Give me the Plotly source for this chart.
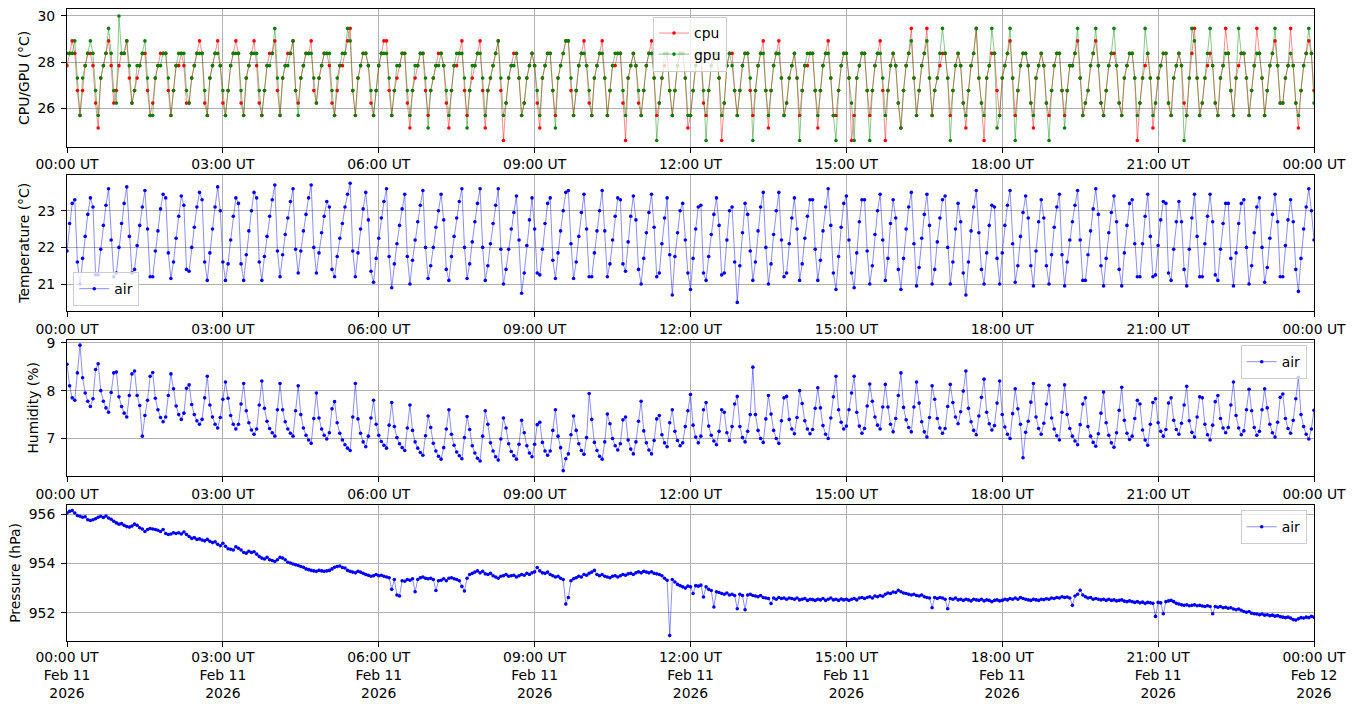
import pandas as pd
import plotly.graph_objects as go

# ---------------- data (3-minute samples, 11 Feb 2026 00:00 -> 12 Feb 2026 00:00 UT) ----------------
start_time = "2026-02-11 00:00"
sample_step = "3min"

# quantised SoC temperature levels (deg C)
soc_levels = [24.61, 25.15, 25.69, 26.23, 26.77, 27.31, 27.85, 28.38, 28.92, 29.46, 30.0]

cpu_level_idx = [
    6, 7, 8, 7, 4, 2, 4, 6, 7, 7, 6, 3, 1, 5, 6, 7, 8, 6, 3, 4,
    6, 7, 7, 8, 5, 3, 4, 5, 6, 7, 7, 4, 2, 3, 5, 6, 7, 7, 7, 4,
    2, 4, 6, 6, 7, 6, 3, 3, 5, 6, 7, 8, 7, 3, 2, 5, 6, 7, 8, 6,
    3, 2, 4, 6, 7, 8, 7, 3, 2, 5, 6, 7, 8, 6, 3, 2, 4, 6, 7, 7,
    8, 4, 2, 5, 6, 7, 7, 8, 4, 3, 5, 6, 7, 7, 8, 4, 3, 5, 6, 7,
    7, 6, 3, 2, 4, 6, 6, 7, 8, 9, 4, 2, 5, 6, 7, 7, 6, 3, 2, 4,
    6, 7, 8, 8, 4, 2, 4, 5, 6, 7, 7, 3, 1, 4, 5, 6, 7, 7, 4, 2,
    4, 5, 6, 7, 7, 6, 3, 1, 4, 6, 6, 7, 8, 4, 2, 4, 5, 6, 7, 8,
    4, 1, 4, 5, 6, 7, 8, 4, 0, 3, 5, 6, 7, 7, 5, 2, 3, 5, 6, 7,
    6, 3, 1, 5, 6, 7, 7, 4, 2, 5, 6, 7, 8, 8, 4, 2, 4, 6, 7, 8,
    6, 3, 2, 5, 6, 7, 8, 5, 2, 4, 6, 6, 7, 7, 3, 0, 5, 6, 7, 6,
    3, 2, 4, 6, 7, 8, 5, 2, 3, 5, 6, 7, 4, 2, 4, 6, 7, 7, 5, 1,
    2, 4, 6, 7, 7, 3, 2, 4, 6, 7, 7, 5, 0, 3, 6, 7, 7, 4, 2, 4,
    6, 7, 7, 4, 2, 4, 6, 7, 8, 4, 1, 4, 6, 7, 8, 5, 2, 3, 5, 6,
    7, 5, 2, 4, 6, 6, 7, 7, 4, 1, 4, 6, 7, 8, 5, 2, 2, 4, 6, 7,
    7, 5, 0, 2, 5, 6, 7, 7, 4, 2, 4, 6, 7, 8, 4, 0, 4, 6, 7, 6,
    3, 1, 4, 6, 7, 9, 5, 2, 4, 6, 7, 9, 5, 2, 4, 5, 6, 7, 7, 5,
    2, 4, 6, 7, 6, 3, 1, 4, 6, 7, 9, 5, 3, 0, 5, 6, 7, 7, 4, 2,
    5, 6, 7, 8, 5, 2, 4, 6, 7, 7, 6, 3, 1, 5, 6, 7, 6, 3, 2, 4,
    6, 7, 7, 4, 2, 4, 6, 6, 7, 8, 5, 2, 3, 4, 6, 7, 8, 6, 3, 2,
    4, 6, 7, 7, 6, 3, 2, 5, 6, 7, 7, 5, 0, 3, 5, 6, 7, 5, 1, 3,
    5, 6, 7, 7, 3, 2, 5, 6, 7, 6, 3, 2, 5, 7, 9, 5, 2, 3, 5, 6,
    7, 6, 3, 2, 5, 6, 9, 7, 4, 2, 5, 6, 7, 7, 5, 2, 4, 6, 9, 7,
    5, 2, 4, 6, 7, 8, 6, 3, 3, 5, 6, 9, 6, 3, 1, 4, 6, 7, 8, 7, 4,
]

gpu_level_idx = [
    7, 7, 7, 8, 5, 2, 5, 6, 7, 8, 7, 4, 2, 5, 6, 7, 9, 7, 4, 3,
    10, 7, 7, 8, 6, 3, 4, 6, 6, 7, 8, 5, 2, 2, 5, 6, 6, 7, 7, 5,
    2, 4, 6, 7, 7, 7, 4, 3, 5, 6, 7, 7, 7, 4, 2, 5, 6, 7, 7, 6,
    4, 2, 4, 6, 7, 7, 7, 4, 2, 5, 6, 7, 7, 7, 4, 2, 4, 6, 6, 7,
    9, 5, 2, 5, 6, 6, 7, 8, 4, 2, 5, 6, 7, 7, 7, 5, 3, 5, 6, 7,
    7, 7, 4, 2, 5, 6, 7, 7, 9, 8, 4, 2, 5, 6, 7, 7, 6, 4, 2, 4,
    6, 7, 7, 7, 5, 2, 4, 6, 6, 7, 7, 4, 2, 4, 6, 6, 7, 7, 5, 1,
    4, 5, 6, 6, 7, 6, 4, 2, 4, 6, 7, 7, 7, 5, 1, 4, 6, 6, 7, 7,
    5, 2, 4, 5, 6, 7, 8, 5, 2, 3, 5, 6, 6, 7, 5, 2, 3, 5, 6, 7,
    6, 4, 2, 5, 6, 7, 7, 4, 1, 5, 6, 7, 8, 8, 5, 2, 4, 6, 7, 7,
    6, 4, 2, 5, 6, 7, 7, 5, 2, 4, 6, 7, 7, 7, 4, 2, 5, 6, 7, 6,
    4, 2, 4, 6, 7, 7, 5, 0, 3, 5, 7, 7, 4, 2, 4, 6, 7, 7, 5, 2,
    2, 4, 6, 7, 7, 4, 0, 4, 6, 7, 7, 5, 2, 3, 6, 7, 6, 4, 2, 4,
    6, 7, 7, 5, 0, 4, 6, 7, 7, 4, 2, 4, 6, 7, 7, 5, 2, 3, 5, 6,
    7, 5, 0, 4, 6, 7, 7, 7, 4, 2, 4, 6, 7, 7, 5, 2, 0, 4, 6, 7,
    7, 5, 3, 0, 5, 6, 7, 7, 4, 0, 4, 6, 7, 7, 5, 2, 4, 6, 7, 6,
    3, 1, 4, 6, 7, 8, 5, 2, 4, 6, 7, 8, 5, 2, 4, 5, 7, 9, 7, 5,
    0, 4, 6, 7, 6, 3, 2, 4, 6, 7, 9, 5, 3, 2, 5, 6, 9, 7, 1, 2,
    5, 6, 7, 9, 5, 0, 4, 6, 7, 7, 6, 3, 2, 5, 6, 7, 6, 3, 0, 4,
    6, 7, 7, 4, 1, 4, 6, 6, 7, 9, 5, 2, 3, 4, 6, 7, 9, 6, 3, 2,
    4, 6, 7, 9, 6, 3, 2, 5, 6, 7, 7, 5, 2, 3, 5, 9, 7, 5, 2, 3,
    5, 6, 7, 7, 3, 2, 5, 6, 7, 6, 0, 2, 5, 9, 8, 5, 2, 3, 5, 7,
    9, 6, 3, 2, 5, 6, 7, 7, 4, 2, 5, 9, 7, 7, 5, 2, 4, 6, 7, 7,
    5, 2, 4, 6, 7, 9, 6, 3, 3, 5, 6, 7, 6, 3, 2, 4, 6, 7, 9, 7, 3,
]

air_temperature = [
    21.9, 22.65, 23.2, 23.3, 21.6, 21.0, 21.7, 22.3, 22.9, 23.35, 23.1, 21.25, 21.25, 21.95, 22.6, 23.15, 23.6, 22.2, 21.2, 21.3,
    22.0, 22.65, 23.2, 23.65, 22.3, 21.3, 21.4, 22.05, 22.6, 23.1, 23.55, 22.5, 21.2, 21.2, 21.9, 22.45, 23.05, 23.45, 23.35, 21.85,
    21.15, 21.6, 22.25, 22.85, 23.4, 23.15, 21.4, 21.35, 22.0, 22.55, 23.1, 23.5, 23.3, 21.6, 21.1, 21.85, 22.5, 23.1, 23.65, 23.0,
    21.6, 21.1, 21.55, 22.2, 22.85, 23.35, 23.2, 21.55, 21.1, 21.8, 22.45, 23.0, 23.5, 23.35, 21.6, 21.1, 21.75, 22.3, 22.85, 23.3,
    23.7, 21.9, 21.2, 21.8, 22.35, 22.8, 23.25, 23.6, 21.95, 21.3, 21.9, 22.45, 22.9, 23.35, 23.7, 22.0, 21.3, 21.85, 22.4, 22.85,
    23.25, 23.1, 21.4, 21.2, 21.75, 22.25, 22.65, 23.1, 23.45, 23.75, 21.9, 21.2, 21.85, 22.5, 23.05, 23.5, 22.75, 21.35, 21.05, 21.7,
    22.25, 22.8, 23.25, 23.6, 21.75, 20.9, 21.55, 22.1, 22.6, 23.05, 23.45, 21.75, 21.0, 21.65, 22.2, 22.7, 23.15, 23.55, 22.0, 21.15,
    21.5, 22.0, 22.55, 23.0, 23.45, 22.75, 21.4, 21.1, 21.75, 22.3, 22.8, 23.25, 23.6, 22.0, 21.15, 21.55, 22.15, 22.7, 23.2, 23.6,
    22.0, 21.1, 21.5, 22.1, 22.65, 23.15, 23.6, 21.95, 21.0, 21.4, 21.95, 22.5, 22.95, 23.4, 22.2, 20.75, 21.3, 22.05, 22.75, 23.35,
    22.5, 21.3, 21.25, 21.95, 22.65, 23.2, 23.35, 21.65, 21.15, 21.85, 22.45, 23.0, 23.5, 23.55, 22.1, 21.15, 21.6, 22.3, 22.95, 23.45,
    22.5, 21.2, 21.2, 21.85, 22.45, 23.0, 23.55, 22.45, 21.2, 21.55, 22.2, 22.85, 23.35, 23.3, 21.55, 21.35, 22.15, 22.85, 23.4, 22.75,
    21.4, 21.0, 21.7, 22.4, 22.95, 23.45, 22.55, 21.2, 21.3, 22.1, 22.8, 23.35, 21.8, 20.7, 21.75, 22.4, 23.0, 23.2, 22.2, 21.3,
    20.85, 21.7, 22.5, 23.1, 23.15, 21.3, 21.1, 21.75, 22.35, 22.9, 23.35, 22.6, 21.25, 21.3, 22.2, 23.0, 23.1, 21.6, 20.5, 21.5,
    22.4, 23.2, 22.9, 21.9, 21.1, 21.6, 22.45, 23.1, 23.5, 22.0, 21.0, 21.55, 22.35, 23.0, 23.5, 22.2, 21.2, 21.3, 22.1, 22.8,
    23.35, 22.5, 21.1, 21.55, 22.25, 22.85, 23.3, 23.3, 21.95, 21.1, 21.65, 22.45, 23.1, 23.6, 22.6, 21.3, 20.85, 21.75, 22.55, 23.2,
    23.4, 22.2, 21.3, 20.9, 21.85, 22.7, 23.3, 23.3, 21.9, 21.0, 21.5, 22.35, 23.0, 23.45, 22.2, 21.1, 21.7, 22.65, 23.3, 22.8,
    21.4, 20.85, 21.7, 22.5, 23.1, 23.5, 22.1, 20.95, 21.45, 22.25, 22.9, 23.45, 22.6, 21.0, 21.4, 22.15, 22.8, 23.3, 23.4, 22.0,
    21.0, 21.6, 22.5, 23.2, 22.7, 21.3, 20.7, 21.6, 22.45, 23.1, 23.55, 22.4, 21.4, 21.0, 21.85, 22.6, 23.15, 23.1, 21.7, 21.0,
    21.85, 22.6, 23.15, 23.55, 22.1, 21.05, 21.5, 22.3, 22.95, 23.4, 22.8, 21.5, 20.95, 21.9, 22.7, 23.3, 22.8, 21.5, 21.0, 21.8,
    22.55, 23.1, 23.45, 21.8, 20.95, 21.6, 22.2, 22.7, 23.15, 23.55, 22.2, 21.1, 21.1, 21.8, 22.45, 23.05, 23.6, 22.9, 21.5, 20.95,
    21.7, 22.4, 22.95, 23.4, 22.7, 21.4, 20.95, 21.85, 22.6, 23.2, 23.3, 22.1, 21.2, 21.2, 22.1, 22.85, 23.45, 22.3, 21.2, 21.25,
    22.05, 22.75, 23.25, 23.2, 21.3, 21.1, 21.95, 22.7, 23.25, 22.7, 21.4, 20.95, 21.95, 22.8, 23.45, 22.3, 21.2, 21.2, 22.1, 22.85,
    23.45, 22.7, 21.25, 21.1, 21.95, 22.65, 23.2, 23.2, 21.7, 20.95, 21.85, 22.65, 23.2, 23.3, 22.0, 21.0, 21.5, 22.4, 23.1, 23.35,
    22.0, 21.05, 21.45, 22.25, 22.9, 23.45, 22.7, 21.2, 21.2, 22.05, 22.75, 23.3, 22.7, 21.4, 20.8, 21.7, 22.5, 23.1, 23.6, 23.0, 22.2,
]

air_humidity = [
    8.55, 8.1, 7.85, 7.8, 8.37, 8.95, 8.27, 7.95, 7.78, 7.67, 7.83, 8.44, 8.56, 8.0, 7.78, 7.64, 7.55, 7.96, 8.37, 8.39,
    7.87, 7.67, 7.53, 7.45, 7.9, 8.35, 8.41, 7.9, 7.69, 7.05, 7.48, 7.8, 8.3, 8.38, 7.84, 7.6, 7.44, 7.35, 7.45, 7.9,
    8.35, 8.04, 7.68, 7.5, 7.4, 7.53, 8.05, 8.12, 7.71, 7.5, 7.37, 7.3, 7.4, 7.85, 8.3, 7.7, 7.45, 7.3, 7.22, 7.44,
    7.82, 8.18, 7.84, 7.48, 7.3, 7.2, 7.3, 7.72, 8.15, 7.58, 7.33, 7.18, 7.09, 7.2, 7.7, 8.2, 7.63, 7.36, 7.21, 7.12,
    7.05, 7.6, 8.15, 7.6, 7.35, 7.2, 7.11, 7.05, 7.58, 8.1, 7.5, 7.22, 7.07, 6.97, 6.9, 7.42, 7.95, 7.43, 7.2, 7.07,
    6.99, 7.12, 7.62, 7.77, 7.33, 7.11, 6.97, 6.87, 6.8, 6.75, 7.45, 8.15, 7.41, 7.11, 6.93, 6.83, 7.05, 7.43, 7.8, 7.3,
    7.07, 6.94, 6.86, 6.8, 7.28, 7.75, 7.25, 7.02, 6.89, 6.81, 6.75, 7.22, 7.7, 7.17, 6.93, 6.8, 6.71, 6.65, 7.06, 7.47,
    7.23, 6.9, 6.74, 6.63, 6.57, 6.81, 7.2, 7.6, 7.09, 6.86, 6.72, 6.64, 6.58, 7.02, 7.46, 7.19, 6.85, 6.7, 6.59, 6.53,
    7.05, 7.58, 7.3, 6.91, 6.74, 6.62, 6.55, 6.99, 7.43, 7.22, 6.89, 6.73, 6.64, 6.57, 6.88, 7.38, 7.12, 6.85, 6.7, 6.62,
    6.88, 7.29, 7.34, 6.92, 6.74, 6.65, 6.74, 7.17, 7.6, 7.05, 6.81, 6.33, 6.58, 6.68, 7.08, 7.47, 7.17, 6.89, 6.75, 6.67,
    7.02, 7.94, 7.4, 6.92, 6.75, 6.63, 6.57, 6.93, 7.51, 7.31, 7.0, 6.85, 6.76, 6.89, 7.39, 7.45, 6.97, 6.78, 6.68, 6.93,
    7.36, 7.78, 7.16, 6.91, 6.76, 6.68, 6.96, 7.41, 7.48, 7.08, 6.91, 6.83, 7.33, 7.6, 7.15, 6.96, 6.85, 6.91, 7.25, 7.58,
    7.92, 7.28, 7.03, 6.91, 7.05, 7.6, 7.75, 7.26, 7.07, 6.95, 6.87, 7.15, 7.6, 7.55, 7.12, 6.96, 7.25, 7.72, 7.88, 7.25,
    7.02, 6.93, 7.15, 7.5, 8.49, 7.5, 7.17, 7.0, 6.92, 7.41, 7.9, 7.51, 7.17, 7.0, 6.9, 7.37, 7.85, 7.88, 7.4, 7.2,
    7.1, 7.44, 8.0, 7.73, 7.37, 7.2, 7.1, 7.19, 7.63, 8.06, 7.64, 7.27, 7.09, 7.0, 7.43, 7.87, 8.3, 7.6, 7.34, 7.2,
    7.26, 7.6, 7.95, 8.3, 7.55, 7.26, 7.11, 7.21, 7.68, 8.14, 7.78, 7.45, 7.28, 7.2, 7.66, 8.13, 7.66, 7.3, 7.14, 7.42,
    7.9, 8.37, 7.65, 7.39, 7.23, 7.14, 7.66, 8.18, 7.74, 7.35, 7.14, 7.03, 7.44, 8.1, 7.82, 7.42, 7.22, 7.11, 7.21, 7.67,
    8.13, 7.75, 7.45, 7.31, 7.56, 7.99, 8.41, 7.63, 7.35, 7.17, 7.08, 7.47, 7.86, 8.24, 7.55, 7.31, 7.18, 7.27, 7.74, 8.2,
    7.5, 7.24, 7.09, 7.0, 7.52, 8.04, 7.62, 7.3, 6.6, 7.13, 7.36, 7.76, 8.15, 7.45, 7.21, 7.09, 7.32, 7.72, 8.11, 7.43,
    7.2, 7.06, 6.97, 7.55, 8.12, 7.5, 7.21, 7.05, 6.95, 6.87, 7.29, 7.72, 7.85, 7.25, 7.05, 6.92, 6.84, 7.1, 7.53, 7.97,
    7.33, 7.07, 6.91, 6.82, 7.12, 7.59, 8.07, 7.38, 7.11, 6.98, 7.05, 7.42, 7.8, 7.72, 7.18, 6.97, 6.86, 7.3, 7.75, 7.83,
    7.33, 7.15, 7.05, 7.19, 7.74, 7.85, 7.38, 7.19, 7.09, 7.32, 7.7, 8.09, 7.37, 7.13, 7.03, 7.45, 7.87, 7.85, 7.3, 7.08,
    6.97, 7.28, 7.77, 7.9, 7.42, 7.22, 7.12, 7.23, 7.7, 8.18, 7.48, 7.22, 7.08, 7.16, 7.6, 8.03, 7.58, 7.23, 7.07, 7.15,
    7.6, 8.04, 7.64, 7.3, 7.12, 7.03, 7.34, 7.86, 7.93, 7.42, 7.21, 7.11, 7.38, 7.83, 8.28, 7.5, 7.25, 7.09, 6.99, 7.2, 7.59,
]

air_pressure = [
    956.05, 956.12, 956.15, 956.05, 955.95, 955.92, 955.88, 955.9, 955.78, 955.75, 955.78, 955.82, 955.88, 955.92, 955.87, 955.93, 955.85, 955.8, 955.72, 955.65,
    955.6, 955.62, 955.55, 955.5, 955.48, 955.52, 955.6, 955.55, 955.45, 955.4, 955.3, 955.38, 955.42, 955.4, 955.38, 955.35, 955.3, 955.38, 955.22, 955.18,
    955.2, 955.25, 955.22, 955.25, 955.2, 955.28, 955.18, 955.1, 955.02, 955.05, 954.98, 955.0, 954.95, 954.92, 954.98, 954.9, 954.85, 954.88, 954.78, 954.72,
    954.82, 954.7, 954.6, 954.58, 954.55, 954.68, 954.62, 954.55, 954.45, 954.42, 954.5, 954.45, 954.48, 954.38, 954.28, 954.22, 954.18, 954.25, 954.15, 954.12,
    954.08, 954.15, 954.25, 954.22, 954.15, 954.05, 954.02, 953.98, 953.95, 953.92, 953.88, 953.85, 953.78, 953.75, 953.72, 953.7, 953.68, 953.72, 953.7, 953.68,
    953.7, 953.72, 953.78, 953.85, 953.88, 953.9, 953.84, 953.82, 953.72, 953.68, 953.65, 953.62, 953.68, 953.65, 953.6, 953.55, 953.52, 953.48, 953.5, 953.55,
    953.5, 953.52, 953.48, 953.45, 953.42, 952.95, 953.35, 952.72, 952.68, 953.3, 953.28, 953.35, 953.32, 953.38, 952.85, 953.35, 953.42, 953.45, 953.4, 953.38,
    953.4, 953.35, 952.9, 953.3, 953.32, 953.38, 953.3, 953.4, 953.42, 953.38, 953.35, 953.3, 953.07, 952.88, 953.4, 953.55, 953.6, 953.65, 953.7, 953.62,
    953.68, 953.58, 953.55, 953.6, 953.5, 953.45, 953.4, 953.48, 953.5, 953.55, 953.48, 953.5, 953.52, 953.45, 953.5, 953.55, 953.52, 953.6, 953.55, 953.62,
    953.66, 953.84, 953.7, 953.62, 953.6, 953.65, 953.55, 953.5, 953.45, 953.48, 953.4, 953.35, 952.35, 952.62, 953.3, 953.38, 953.42, 953.48, 953.45, 953.55,
    953.52, 953.6, 953.65, 953.72, 953.55, 953.5, 953.55, 953.48, 953.45, 953.42, 953.48, 953.5, 953.45, 953.5, 953.55, 953.52, 953.58, 953.6, 953.55, 953.62,
    953.66, 953.62, 953.68, 953.65, 953.62, 953.66, 953.6, 953.58, 953.55, 953.5, 953.4, 953.32, 951.07, 953.35, 953.25, 953.15, 953.1, 953.05, 953.0, 953.08,
    953.05, 952.78, 953.1, 953.08, 953.12, 952.64, 953.05, 952.95, 952.9, 952.23, 952.85, 952.82, 952.78, 952.75, 952.8, 952.72, 952.75, 952.7, 952.16, 952.75,
    952.7, 952.12, 952.72, 952.75, 952.7, 952.68, 952.65, 952.7, 952.62, 952.6, 952.58, 952.37, 952.6, 952.55, 952.62, 952.58, 952.6, 952.55, 952.6, 952.58,
    952.55, 952.6, 952.52, 952.55, 952.58, 952.5, 952.55, 952.53, 952.5, 952.55, 952.52, 952.58, 952.5, 952.55, 952.6, 952.52, 952.55, 952.5, 952.56, 952.52,
    952.55, 952.5, 952.55, 952.58, 952.52, 952.6, 952.62, 952.58, 952.62, 952.65, 952.6, 952.68, 952.65, 952.7, 952.67, 952.75, 952.8, 952.78, 952.84, 952.82,
    952.91, 952.85, 952.8, 952.78, 952.75, 952.72, 952.75, 952.7, 952.68, 952.72, 952.65, 952.62, 952.6, 952.2, 952.62, 952.58, 952.62, 952.6, 952.55, 952.16,
    952.58, 952.55, 952.6, 952.52, 952.55, 952.5, 952.55, 952.52, 952.48, 952.55, 952.52, 952.5, 952.55, 952.48, 952.52, 952.5, 952.45, 952.5, 952.52, 952.48,
    952.5, 952.55, 952.52, 952.58, 952.55, 952.6, 952.55, 952.62, 952.58, 952.55, 952.52, 952.5, 952.55, 952.52, 952.5, 952.55, 952.53, 952.57, 952.55, 952.6,
    952.58, 952.62, 952.6, 952.65, 952.62, 952.64, 952.6, 952.3, 952.68, 952.75, 952.91, 952.72, 952.65, 952.6, 952.62, 952.55, 952.58, 952.55, 952.52, 952.55,
    952.5, 952.55, 952.5, 952.52, 952.48, 952.5, 952.52, 952.47, 952.45, 952.48, 952.45, 952.42, 952.45, 952.4, 952.43, 952.38, 952.42, 952.4, 952.38, 951.85,
    952.42, 952.4, 951.96, 952.45, 952.48, 952.5, 952.45, 952.38, 952.35, 952.32, 952.3, 952.32, 952.28, 952.3, 952.32, 952.28, 952.3, 952.27, 952.25, 952.28,
    952.25, 951.96, 952.25, 952.22, 952.25, 952.2, 952.22, 952.18, 952.2, 952.15, 952.12, 952.15, 952.1, 952.05, 952.02, 952.05, 951.98, 951.96, 951.95, 951.92,
    951.95, 951.9, 951.92, 951.88, 951.9, 951.86, 951.88, 951.84, 951.82, 951.8, 951.82, 951.78, 951.72, 951.7, 951.75, 951.8, 951.78, 951.82, 951.8, 951.85, 951.82,
]

# axis ticks
tick_times = ["2026-02-11 00:00", "2026-02-11 03:00", "2026-02-11 06:00", "2026-02-11 09:00",
              "2026-02-11 12:00", "2026-02-11 15:00", "2026-02-11 18:00", "2026-02-11 21:00",
              "2026-02-12 00:00"]
tick_hours = ["00:00 UT", "03:00 UT", "06:00 UT", "09:00 UT", "12:00 UT",
              "15:00 UT", "18:00 UT", "21:00 UT", "00:00 UT"]
tick_days = ["Feb 11", "Feb 11", "Feb 11", "Feb 11", "Feb 11", "Feb 11", "Feb 11", "Feb 11", "Feb 12"]
tick_years = ["2026"] * 9

# ---------------- figure ----------------
def times_for(series):
    return pd.date_range(start_time, periods=len(series), freq=sample_step)

cpu_vals = [soc_levels[i] for i in cpu_level_idx]
gpu_vals = [soc_levels[i] for i in gpu_level_idx]

FONT = "DejaVu Sans"
FS = 13.9

def series(x, y, name, line_rgba, marker_color, xa, ya, legend):
    return go.Scatter(
        x=x, y=y, name=name, mode="lines+markers",
        line=dict(color=line_rgba, width=0.9),
        marker=dict(color=marker_color, size=3.6, line=dict(width=0)),
        xaxis=xa, yaxis=ya, legend=legend,
    )

fig = go.Figure()
fig.add_trace(series(times_for(cpu_vals), cpu_vals, "cpu", "rgba(255,0,0,0.5)", "red", "x", "y", "legend"))
fig.add_trace(series(times_for(gpu_vals), gpu_vals, "gpu", "rgba(0,128,0,0.5)", "green", "x", "y", "legend"))
fig.add_trace(series(times_for(air_temperature), air_temperature, "air", "rgba(0,0,255,0.5)", "blue", "x2", "y2", "legend2"))
fig.add_trace(series(times_for(air_humidity), air_humidity, "air", "rgba(0,0,255,0.5)", "blue", "x3", "y3", "legend3"))
fig.add_trace(series(times_for(air_pressure), air_pressure, "air", "rgba(0,0,255,0.5)", "blue", "x4", "y4", "legend4"))

# the page body margin is removed (post_script below), so figure pixels == window pixels
W, H = 1354, 707
PLOT_L, PLOT_R, PLOT_T, PLOT_B = 66.7, 1314.3, 9.0, 640.7
ML, MR, MT, MB = PLOT_L, W - PLOT_R, PLOT_T, H - PLOT_B
plot_h = PLOT_B - PLOT_T
plot_w = PLOT_R - PLOT_L

def dom(top_px, bot_px):
    return [(PLOT_B - bot_px) / plot_h, (PLOT_B - top_px) / plot_h]

def py(px):
    return (PLOT_B - px) / plot_h

def px_x(px):
    return (px - PLOT_L) / plot_w

axis_common = dict(
    showline=True, linecolor="black", linewidth=1, mirror=True,
    showgrid=True, gridcolor="#b0b0b0", gridwidth=0.8, zeroline=False,
    ticks="outside", ticklen=5, tickwidth=1, tickcolor="black",
    tickfont=dict(family=FONT, size=FS, color="black"),
    automargin=False, ticklabeloverflow="allow",
)

x_range = ["2026-02-11 00:00", "2026-02-12 00:00"]
hour_text = tick_hours
date_text = [f"{h}<br>{d}<br>{y}" for h, d, y in zip(tick_hours, tick_days, tick_years)]

layout_axes = {}
domains = [dom(9, 146.7), dom(174.7, 310.7), dom(339.7, 475.7), dom(504.7, 640.7)]
yranges = [[24.34, 30.3], [20.27, 23.98], [6.22, 9.06], [950.85, 956.38]]
ytickvals = [[26, 28, 30], [21, 22, 23], [7, 8, 9], [952, 954, 956]]
ytitles = ["CPU/GPU (°C)", "Temperature (°C)", "Humidity (%)", "Pressure (hPa)"]
for i in range(4):
    sx = "" if i == 0 else str(i + 1)
    layout_axes["xaxis" + sx] = dict(
        axis_common, type="date", range=x_range, domain=[0, 1],
        anchor="y" + sx, tickmode="array", tickvals=tick_times,
        ticktext=date_text if i == 3 else hour_text,
        ticklabelstandoff=-2 if i == 3 else 0,
    )
    layout_axes["yaxis" + sx] = dict(
        axis_common, range=yranges[i], domain=domains[i], anchor="x" + sx,
        tickmode="array", tickvals=ytickvals[i], ticklabelstandoff=3,
        title=dict(text=ytitles[i], font=dict(family=FONT, size=FS, color="black"), standoff=4),
    )

legend_style = dict(
    bgcolor="rgba(255,255,255,0.8)", bordercolor="#cccccc", borderwidth=1,
    font=dict(family=FONT, size=FS, color="black"), itemwidth=30,
)

fig.update_layout(
    width=W, height=H,
    margin=dict(l=ML, r=MR, t=MT, b=MB, autoexpand=False),
    paper_bgcolor="white", plot_bgcolor="white",
    font=dict(family=FONT, size=FS, color="black"),
    showlegend=True,
    legend=dict(legend_style, x=px_x(690), xanchor="center", y=py(16.5), yanchor="top"),
    legend2=dict(legend_style, x=px_x(73), xanchor="left", y=py(306), yanchor="bottom"),
    legend3=dict(legend_style, x=px_x(1307), xanchor="right", y=py(345), yanchor="top"),
    legend4=dict(legend_style, x=px_x(1307), xanchor="right", y=py(510), yanchor="top"),
    **layout_axes,
)

fig.write_html(
    "out.html",
    config={"displayModeBar": False},
    post_script="document.body.style.margin='0';document.body.style.overflow='hidden';",
)
